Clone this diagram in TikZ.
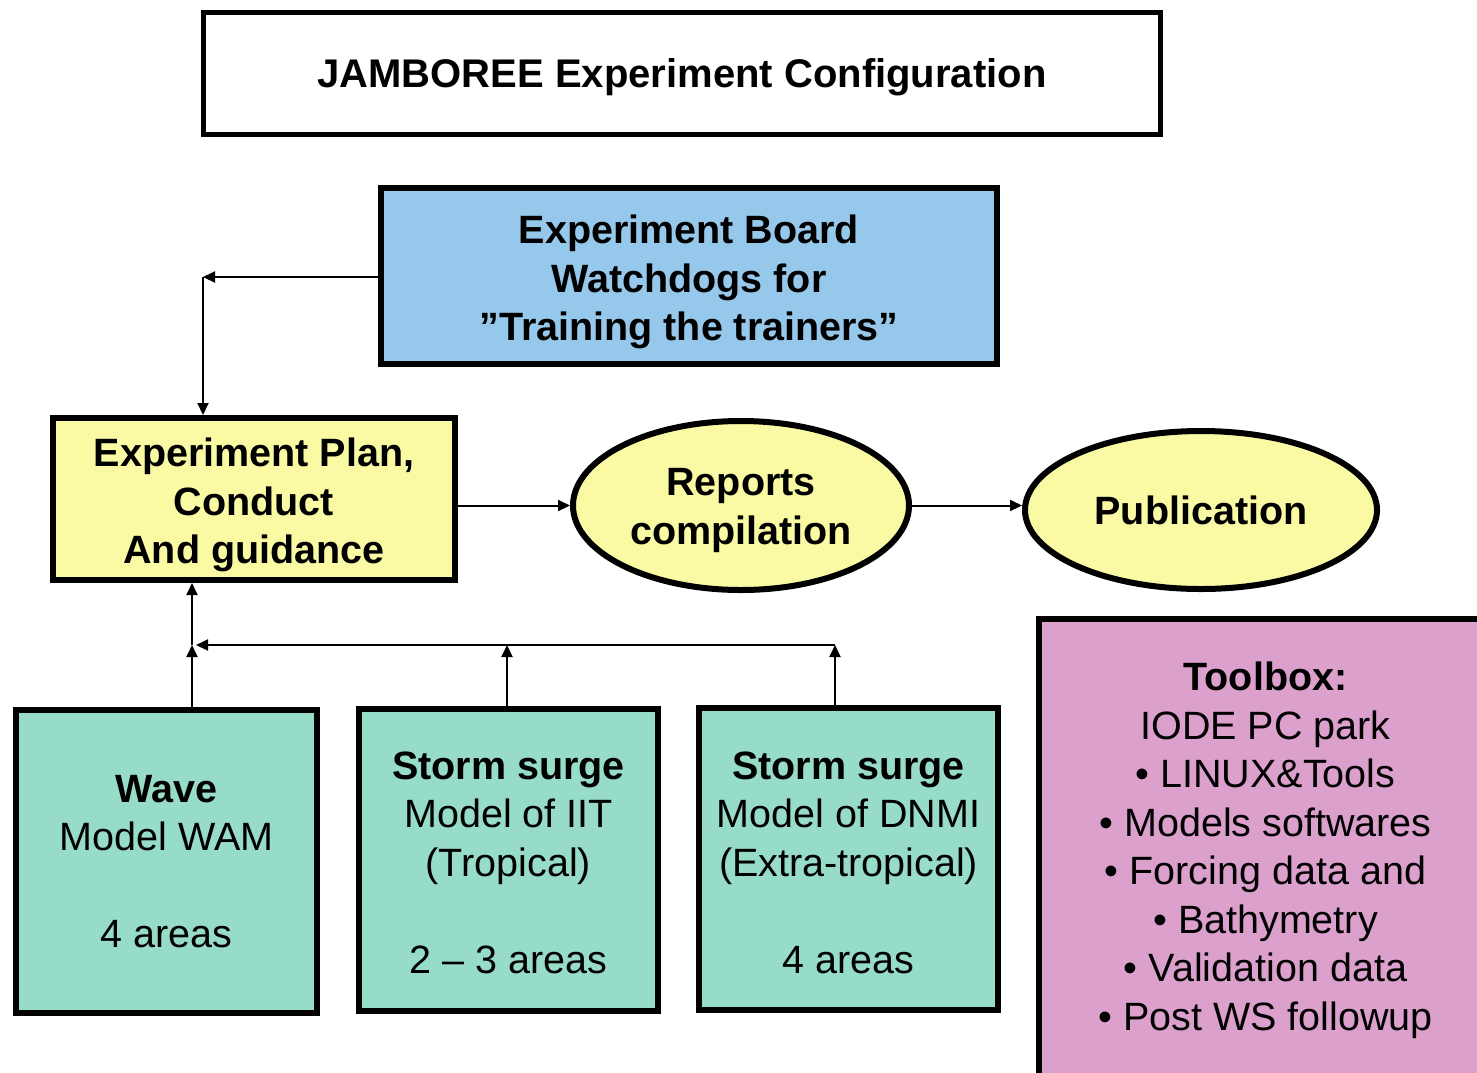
\documentclass[tikz,border=0pt]{standalone}
\usepackage{fontspec}
\setmainfont{Liberation Sans}
\usetikzlibrary{shapes.geometric,arrows.meta}
\definecolor{boardblue}{RGB}{150,200,235}
\definecolor{planyellow}{RGB}{250,250,165}
\definecolor{modelteal}{RGB}{150,220,200}
\definecolor{toolpink}{RGB}{220,160,205}
\newcommand\tup[1]{\rule{0pt}{#1}}
\tikzset{
  box/.style={draw=black, line width=6pt, rectangle, inner sep=0pt, align=center,
    font=\fontsize{39.5}{48.5}\selectfont},
  oval/.style={draw=black, line width=6pt, ellipse, inner sep=0pt, align=center,
    font=\fontsize{39.5}{48.5}\selectfont\bfseries},
  conn/.style={line width=2pt, -{Triangle[length=12pt,width=11pt]}},
}
\begin{document}
\begin{tikzpicture}[x=1pt,y=1pt]
\useasboundingbox (0,0) rectangle (1477,-1072);
\clip (0,0) rectangle (1477,-1072);
% title
\node[box, line width=5pt, minimum width=957pt, minimum height=122pt,
  font=\fontsize{40}{48.5}\selectfont\bfseries]
  (title) at (682,-73.5) {\tup{36.8pt}JAMBOREE Experiment Configuration};
% board
\node[box, fill=boardblue, minimum width=616pt, minimum height=176pt,
  font=\fontsize{39.5}{48.5}\selectfont\bfseries]
  (board) at (689,-276) {\tup{40.8pt}Experiment Board\\Watchdogs for\\”Training the trainers”};
% plan
\node[box, fill=planyellow, minimum width=402pt, minimum height=162pt,
  font=\fontsize{39.5}{48.5}\selectfont\bfseries]
  (plan) at (254,-499) {\tup{40.8pt}Experiment Plan,\\Conduct\\And guidance};
% ellipses
\node[oval, fill=planyellow, minimum width=336pt, minimum height=169pt]
  (rep) at (741,-505.5) {\tup{36.8pt}Reports\\compilation};
\node[oval, fill=planyellow, minimum width=352pt, minimum height=158pt]
  (pub) at (1201,-510) {Publication};
% models
\node[box, fill=modelteal, minimum width=301pt, minimum height=303pt]
  (wave) at (166.5,-861.5) {\textbf{Wave}\\Model WAM\\[48.5pt]4 areas};
\node[box, fill=modelteal, minimum width=299pt, minimum height=302pt]
  (iit) at (508.5,-860) {\tup{32.8pt}\textbf{Storm surge}\\Model of IIT\\(Tropical)\\[48.5pt]2 – 3 areas};
\node[box, fill=modelteal, minimum width=299pt, minimum height=302pt]
  (dnmi) at (848.5,-859) {\tup{34.8pt}\textbf{Storm surge}\\Model of DNMI\\(Extra-tropical)\\[48.5pt]4 areas};
% toolbox
\node[box, fill=toolpink, minimum width=453pt, minimum height=458pt]
  (tool) at (1265.5,-848) {\tup{32.8pt}\textbf{Toolbox:}\\IODE PC park\\• LINUX\&Tools\\• Models softwares\\• Forcing data and\\• Bathymetry\\• Validation data\\• Post WS followup};
% connectors
\coordinate (c1) at (203,-277);
\draw[conn] (board.west |- c1) -- (c1);
\draw[conn] (c1) -- (c1 |- plan.north);
\draw[conn] (rep.west -| plan.east) -- (rep.west);
\draw[conn] (rep.east) -- (rep.east -| pub.west);
\coordinate (j) at (192,-645);
\coordinate (k) at (835,-645);
\coordinate (m) at (507,-645);
\draw[conn] (j |- wave.north) -- (j);
\draw[conn] (j) -- (j |- plan.south);
\draw[conn] (k |- dnmi.north) -- (k);
\draw[conn] (k) -- ([xshift=4pt]j);
\draw[conn] (m |- iit.north) -- (m);
\end{tikzpicture}
\end{document}
